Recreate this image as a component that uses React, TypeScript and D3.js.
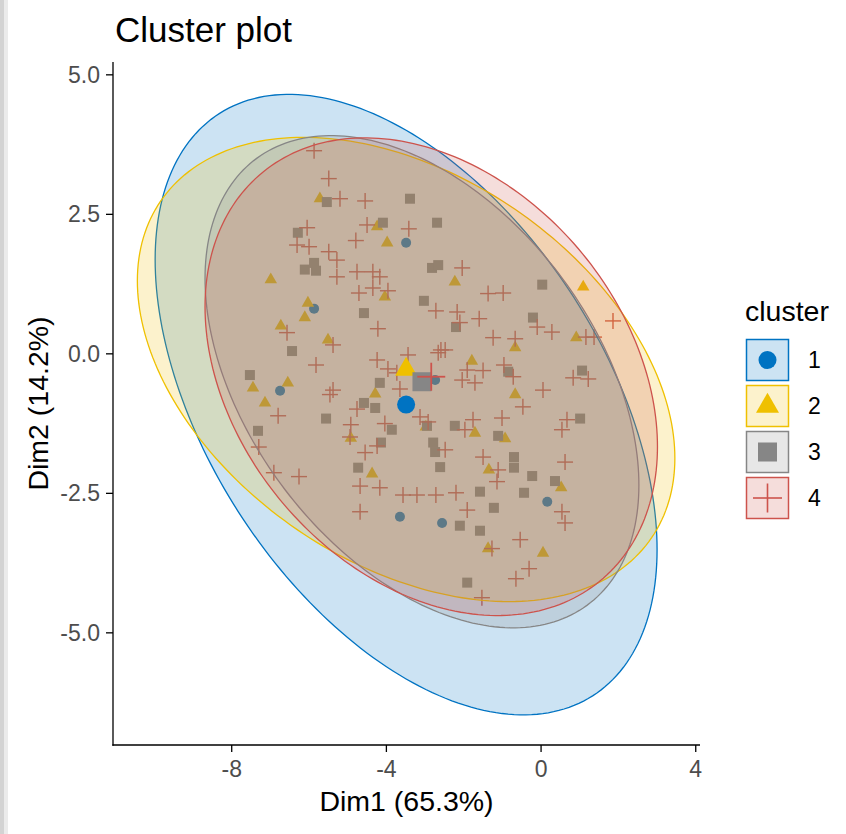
import React from "react";
import * as d3 from "d3";

// Cluster labels and palette (jco)
const clusterNames = ["1", "2", "3", "4"];
const clusterColors = ["#0073C2", "#EFC000", "#868686", "#CD534C"];

// Axis ticks
const xTicks = [-8, -4, 0, 4];
const yTicks = [-5, -2.5, 0, 2.5, 5];

// Observations (Dim1, Dim2) per cluster
const cluster1: [number, number][] = [
  [-3.49, 1.99], [-5.87, 0.81], [-6.75, -0.66], [-3.65, -2.92], [-2.74, -0.47],
  [0.16, -2.65], [-2.56, -3.03],
];

const cluster2: [number, number][] = [
  [-5.72, 2.78], [-4.24, 2.28], [-3.98, 1.99], [-6.99, 1.33], [-4.04, 1.02],
  [-6.03, 0.91], [-6.11, 0.65], [-6.73, 0.5], [-5.51, 0.25], [-2.23, 1.29],
  [1.09, 1.2], [0.91, 0.29], [-0.67, 0.11], [-1.79, -0.13], [-7.45, -0.61],
  [-6.55, -0.52], [-7.14, -0.88], [-4.29, -0.72], [-4.92, -1.51], [-4.37, -2.15],
  [-0.67, -0.73], [-2.98, -1.31], [-1.71, -1.42], [-0.93, -1.52], [-1.35, -2.08],
  [0.52, -2.4], [-1.37, -3.49], [0.05, -3.57],
];

const cluster3: [number, number][] = [
  [-5.54, 2.72], [-3.39, 2.78], [-4.09, 2.35], [-2.69, 2.35], [-6.29, 2.17],
  [-6.11, 1.51], [-5.87, 1.63], [-5.82, 1.49], [-2.82, 1.54], [-2.66, 1.59],
  [0.03, 1.24], [-3.03, 0.95], [-0.21, 0.65], [-2.2, 0.48], [-4.58, 0.73],
  [-6.44, 0.05], [-7.53, -0.38], [-0.85, -0.32], [1.06, -0.3], [-4.17, -0.52],
  [-4.58, -0.88], [-4.29, -0.97], [-5.56, -1.16], [-7.32, -1.38], [-3.86, -1.36],
  [-4.14, -1.59], [-4.73, -2.04], [-2.95, -1.29], [-2.23, -1.29], [-1.11, -1.47],
  [-2.79, -1.59], [-2.74, -1.76], [-2.61, -2.03], [-0.7, -1.85], [-0.7, -2.04],
  [-0.23, -2.19], [0.36, -2.28], [1.01, -1.16], [-1.58, -2.47], [-0.44, -2.49],
  [-1.22, -2.76], [-2.1, -3.08], [-1.58, -3.17], [-1.91, -4.1],
];

const cluster4: [number, number][] = [
  [-5.87, 3.64], [-5.49, 3.14], [-5.2, 2.78], [-4.55, 2.74], [-6.05, 2.26],
  [-6.31, 1.95], [-6.0, 1.92], [-4.5, 2.31], [-4.79, 2.03], [-3.42, 2.24],
  [-5.49, 1.83], [-5.28, 1.68], [-5.28, 1.38], [-4.76, 1.47], [-4.35, 1.47],
  [-4.17, 1.38], [-4.71, 1.09], [-4.35, 1.18], [-3.96, 1.13], [-4.22, 0.45],
  [-6.57, 0.38], [-5.38, 0.16], [-5.82, -0.2], [-4.24, -0.11], [-3.96, -0.27],
  [-2.04, 1.54], [-1.37, 1.08], [-0.98, 1.09], [-2.72, 0.77], [-2.17, 0.75],
  [-2.1, 0.56], [-1.6, 0.63], [-0.1, 0.48], [0.28, 0.39], [-1.24, 0.29],
  [-0.67, 0.27], [1.16, 0.3], [1.37, 0.3], [1.86, 0.59], [-2.59, 0.07],
  [-1.91, -0.29], [-1.5, -0.3], [-0.96, -0.2], [0.83, -0.43], [-3.73, -0.34],
  [-3.65, -0.63], [-5.38, -0.65], [-5.46, -0.73], [-4.76, -0.99], [-6.8, -1.11],
  [-4.92, -1.27], [-4.04, -1.25], [-4.94, -1.49], [-4.24, -1.65], [-7.3, -1.67],
  [-4.55, -1.77], [-6.91, -2.13], [-6.26, -2.2], [-4.68, -2.37], [-4.17, -2.4],
  [-3.57, -2.53], [-4.68, -2.83], [-3.44, -0.02], [-2.66, 0.02], [-2.48, 0.07],
  [-2.04, -0.47], [-1.71, -0.52], [-0.72, -0.41], [1.22, -0.45], [0.05, -0.65],
  [-0.47, -0.95], [-3.13, -1.13], [-2.92, -1.22], [-1.76, -1.18], [-1.97, -1.36],
  [-1.01, -1.15], [0.67, -1.18], [0.54, -1.36], [-2.48, -1.72], [-1.5, -1.85],
  [-1.11, -2.08], [-1.14, -2.29], [0.62, -1.94], [-3.21, -2.53], [-2.72, -2.53],
  [-2.2, -2.49], [-1.91, -2.8], [0.54, -2.83], [0.62, -3.03], [-0.54, -3.33],
  [-1.27, -3.49], [-0.31, -3.85], [-0.65, -4.03], [-1.53, -4.37],
];

const clusterPoints = [cluster1, cluster2, cluster3, cluster4];

// Cluster centres
const centroidX = [-3.49, -3.49, -3.08, -2.84];
const centroidY = [-0.91, -0.28, -0.5, -0.41];

// Concentration ellipses: half extents along Dim1 / Dim2 and correlation
const ellipseSdX = [6.49, 6.95, 5.61, 5.85];
const ellipseSdY = [5.56, 4.16, 4.41, 4.28];
const ellipseRho = [-0.467, -0.382, -0.42, -0.293];

const W = 846;
const H = 834;
const panel = { left: 113, right: 700, top: 62, bottom: 745 };
const FONT = "'Liberation Sans', Arial, Helvetica, sans-serif";

const x = d3.scaleLinear().domain([-11.07, 4.11]).range([panel.left, panel.right]);
const y = d3.scaleLinear().domain([-7.01, 5.23]).range([panel.bottom, panel.top]);

function ellipsePath(k: number): string {
  const cx = centroidX[k];
  const cy = centroidY[k];
  const a = ellipseSdX[k];
  const b = ellipseSdY[k];
  const r = ellipseRho[k];
  const s = Math.sqrt(1 - r * r);
  const pts: [number, number][] = d3.range(0, 240).map((i) => {
    const t = (i / 240) * Math.PI * 2;
    const ex = cx + a * Math.cos(t);
    const ey = cy + b * (r * Math.cos(t) + s * Math.sin(t));
    return [x(ex), y(ey)];
  });
  return d3.line().curve(d3.curveLinearClosed)(pts) || "";
}

type MarkerProps = { shape: number; cx: number; cy: number; size: number; color: string; sw?: number };

function Marker({ shape, cx, cy, size, color, sw = 1.4 }: MarkerProps) {
  if (shape === 0) return <circle cx={cx} cy={cy} r={size / 2} fill={color} />;
  if (shape === 1) {
    const r = size / Math.sqrt(3);
    const pts = [
      [cx, cy - r],
      [cx + size / 2, cy + r / 2],
      [cx - size / 2, cy + r / 2],
    ];
    return <polygon points={pts.map((p) => p.join(",")).join(" ")} fill={color} />;
  }
  if (shape === 2)
    return <rect x={cx - size / 2} y={cy - size / 2} width={size} height={size} fill={color} />;
  const h = size / 2;
  return (
    <g stroke={color} strokeWidth={sw}>
      <line x1={cx - h} x2={cx + h} y1={cy} y2={cy} />
      <line x1={cx} x2={cx} y1={cy - h} y2={cy + h} />
    </g>
  );
}

const smallSize = [10, 12.5, 10, 16];
const bigSize = [18, 22, 19, 28];
const legendSize = [18, 23, 19, 29];

export default function App() {
  const fmtY = (v: number) => v.toFixed(1);
  const legendTop = 339;
  const legendStep = 46;

  return (
    <svg
      width={W}
      height={H}
      style={{ position: "absolute", left: 0, top: 0, background: "#fff" }}
      fontFamily={FONT}
    >
      <rect x={0} y={0} width={W} height={H} fill="#fff" />
      <rect x={0} y={0} width={4} height={H} fill="#d3d3d3" />
      <rect x={4} y={0} width={4} height={H} fill="#ebebeb" />

      {/* title */}
      <text x={115} y={42} fontSize={35} fill="#000">
        Cluster plot
      </text>

      {/* observations */}
      <g>
        {clusterPoints.map((pts, k) =>
          pts.map((p, i) => (
            <Marker
              key={`p${k}-${i}`}
              shape={k}
              cx={x(p[0])}
              cy={y(p[1])}
              size={smallSize[k]}
              color={clusterColors[k]}
              sw={1.4}
            />
          ))
        )}
      </g>

      {/* ellipses */}
      <g>
        {clusterNames.map((_, k) => (
          <path
            key={`e${k}`}
            d={ellipsePath(k)}
            fill={clusterColors[k]}
            fillOpacity={0.2}
            stroke={clusterColors[k]}
            strokeWidth={1.3}
          />
        ))}
      </g>

      {/* cluster centres */}
      <g>
        {clusterNames.map((_, k) => (
          <Marker
            key={`c${k}`}
            shape={k}
            cx={x(centroidX[k])}
            cy={y(centroidY[k])}
            size={bigSize[k]}
            color={clusterColors[k]}
            sw={1.8}
          />
        ))}
      </g>

      {/* axes */}
      <g stroke="#000" strokeWidth={1.3}>
        <line x1={panel.left} x2={panel.left} y1={panel.top} y2={panel.bottom + 0.65} />
        <line x1={panel.left - 0.65} x2={panel.right} y1={panel.bottom} y2={panel.bottom} />
        {xTicks.map((t) => (
          <line key={`xt${t}`} x1={x(t)} x2={x(t)} y1={panel.bottom} y2={panel.bottom + 7} />
        ))}
        {yTicks.map((t) => (
          <line key={`yt${t}`} x1={panel.left - 7} x2={panel.left} y1={y(t)} y2={y(t)} />
        ))}
      </g>
      <g fontSize={23} fill="#4D4D4D">
        {xTicks.map((t) => (
          <text key={`xl${t}`} x={x(t)} y={777} textAnchor="middle">
            {String(t)}
          </text>
        ))}
        {yTicks.map((t) => (
          <text key={`yl${t}`} x={100} y={y(t) + 8} textAnchor="end">
            {fmtY(t)}
          </text>
        ))}
      </g>

      {/* axis titles */}
      <text x={(panel.left + panel.right) / 2} y={811} fontSize={28.5} textAnchor="middle" fill="#000">
        Dim1 (65.3%)
      </text>
      <text
        transform={`translate(48, ${(panel.top + panel.bottom) / 2}) rotate(-90)`}
        fontSize={28.5}
        textAnchor="middle"
        fill="#000"
      >
        Dim2 (14.2%)
      </text>

      {/* legend */}
      <text x={745} y={321} fontSize={28.5} fill="#000">
        cluster
      </text>
      {clusterNames.map((name, k) => {
        const top = legendTop + k * legendStep;
        const cx = 767.5;
        const cy = top + 21;
        return (
          <g key={`lg${k}`}>
            <rect x={746.5} y={top + 0.5} width={42} height={41} fill="#fff" />
            <rect
              x={746.5}
              y={top + 0.5}
              width={42}
              height={41}
              fill={clusterColors[k]}
              fillOpacity={0.2}
              stroke={clusterColors[k]}
              strokeWidth={1.5}
            />
            <Marker shape={k} cx={cx} cy={cy} size={legendSize[k]} color={clusterColors[k]} sw={1.6} />
            <text x={808} y={cy + 8} fontSize={23} fill="#000">
              {name}
            </text>
          </g>
        );
      })}
    </svg>
  );
}
